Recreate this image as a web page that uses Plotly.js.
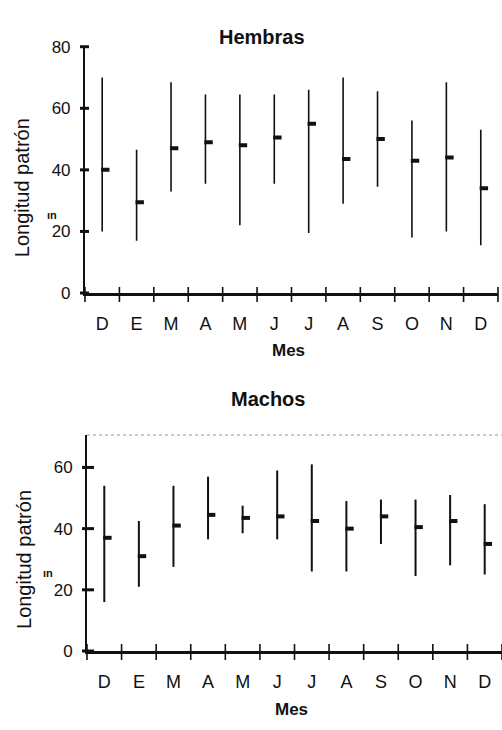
<!DOCTYPE html>
<html><head><meta charset="utf-8">
<script src="https://cdn.plot.ly/plotly-3.0.1.min.js"></script>
<style>html,body{margin:0;padding:0;background:#fff}#c{width:502px;height:730px}</style>
</head><body><div id="c"></div>
<script>
const months = ['D','E','M','A','M','J','J','A','S','O','N','D'];
const hembrasMin  = [20, 17, 33, 35.5, 22, 35.5, 19.5, 29, 34.5, 18, 20, 15.5];
const hembrasMax  = [70, 46.5, 68.5, 64.5, 64.5, 64.5, 66, 70, 65.5, 56, 68.5, 53];
const hembrasMean = [40, 29.5, 47, 49, 48, 50.5, 55, 43.5, 50, 43, 44, 34];
const machosMin   = [16, 21, 27.5, 36.5, 38.5, 36.5, 26, 26, 35, 24.5, 28, 25];
const machosMax   = [54, 42.5, 54, 57, 47.5, 59, 61, 49, 49.5, 49.5, 51, 48];
const machosMean  = [37, 31, 41, 44.5, 43.5, 44, 42.5, 40, 44, 40.5, 42.5, 35];
const yTicksTop = [0, 20, 40, 60, 80];
const yTicksBottom = [0, 20, 40, 60];

const pos = months.map((m, i) => i + 1);
const edges = [0].concat(pos).map(v => v + 0.5);
const xRange = [0.5, 12.5];
const yRangeTop = [0, 80], yRangeBot = [0, 70.6];

function rangeTrace(mins, maxs, xa, ya, w) {
  const xs = [], ys = [];
  pos.forEach((p, i) => { xs.push(p, p, null); ys.push(mins[i], maxs[i], null); });
  return {type:'scatter', mode:'lines', x:xs, y:ys, xaxis:xa, yaxis:ya,
          line:{color:'#111', width:w}, hoverinfo:'skip', showlegend:false};
}
function meanTrace(means, xa, ya) {
  return {type:'scatter', mode:'markers', x:pos.map(p => p + 0.09), y:means, xaxis:xa, yaxis:ya,
          marker:{symbol:'line-ew', size:6, line:{color:'#111', width:4}}, showlegend:false};
}

const F = 'Liberation Sans, Arial, sans-serif';

const data = [
  rangeTrace(hembrasMin, hembrasMax, 'x', 'y', 1.6),
  meanTrace(hembrasMean, 'x', 'y'),
  rangeTrace(machosMin, machosMax, 'x2', 'y2', 2),
  meanTrace(machosMean, 'x2', 'y2')
];

function mainX(domain, anchor) {
  return {domain:domain, anchor:anchor, range:xRange, tickmode:'array', tickvals:pos, ticktext:months,
          ticks:'', showline:true, linecolor:'#111', linewidth:3, showgrid:false, zeroline:false,
          ticklabelstandoff:12, tickfont:{family:F, size:18, color:'#111'}};
}
function mainY(domain, anchor, range, tv) {
  return {domain:domain, anchor:anchor, range:range, tickmode:'array', tickvals:tv,
          ticks:'', showline:true, linecolor:'#111',
          linewidth:2, showgrid:false, zeroline:false, ticklabelstandoff:9,
          tickfont:{family:F, size:17, color:'#111'}};
}

// axis tick marks crossing the axis lines (paper coordinates, no clipping)
function lin(v, r, d) { return d[0] + (v - r[0]) / (r[1] - r[0]) * (d[1] - d[0]); }
function xTickShapes(xd, yd, dn, up) {
  return edges.map(e => {
    const xp = lin(e, xRange, xd);
    return {type:'line', xref:'paper', yref:'paper', ysizemode:'pixel', yanchor:yd[0],
      x0:xp, x1:xp, y0:-dn, y1:up, line:{color:'#111', width:1.6}};
  });
}
function yTickShapes(xd, yd, yr, tv, l, r) {
  return tv.map(v => {
    const yp = lin(v, yr, yd);
    return {type:'line', xref:'paper', yref:'paper', xsizemode:'pixel', xanchor:xd[0],
      x0:-l, x1:r, y0:yp, y1:yp, line:{color:'#111', width:3}};
  });
}

const topDomX = [0.1693, 0.992], botDomX = [0.1733, 1.0];
const topDomY = [0.5986, 0.936], botDomY = [0.1082, 0.4041];
const layout = {
  width:502, height:730, margin:{l:0, r:0, t:0, b:0},
  paper_bgcolor:'#fff', plot_bgcolor:'rgba(0,0,0,0)', showlegend:false,
  xaxis: mainX(topDomX, 'y'),
  yaxis: mainY(topDomY, 'x', yRangeTop, yTicksTop),
  xaxis2: mainX(botDomX, 'y2'),
  yaxis2: mainY(botDomY, 'x2', yRangeBot, yTicksBottom),
  shapes: [
    {type:'line', xref:'x2 domain', yref:'y2 domain', x0:0, x1:1, y0:1, y1:1,
     line:{color:'#999', width:1, dash:'dot'}}
  ].concat(xTickShapes(topDomX, topDomY, 9, 6), xTickShapes(botDomX, botDomY, 9, 7),
           yTickShapes(topDomX, topDomY, yRangeTop, yTicksTop, 5, 4),
           yTickShapes(botDomX, botDomY, yRangeBot, yTicksBottom, 5, 7)),
  annotations: [
    {text:'<b>Hembras</b>', xref:'paper', yref:'paper', x:0.522, y:0.967, xanchor:'center', showarrow:false,
     font:{family:F, size:20, color:'#111'}},
    {text:'<b>Machos</b>', xref:'paper', yref:'paper', x:0.534, y:0.4534, xanchor:'center', showarrow:false,
     font:{family:F, size:20, color:'#111'}},
    {text:'<b>Mes</b>', xref:'paper', yref:'paper', x:0.574, y:0.5205, xanchor:'center', showarrow:false,
     font:{family:F, size:17, color:'#111'}},
    {text:'<b>Mes</b>', xref:'paper', yref:'paper', x:0.58, y:0.0123, xanchor:'center', showarrow:false,
     font:{family:F, size:17, color:'#111'}},
    {text:'Longitud patrón', xref:'paper', yref:'paper', x:0.0432, y:1 - 187.5/730, textangle:-90,
     xanchor:'center', yanchor:'middle', showarrow:false, font:{family:F, size:20, color:'#111'}},
    {text:'Longitud patrón', xref:'paper', yref:'paper', x:0.0478, y:1 - 559/730, textangle:-90,
     xanchor:'center', yanchor:'middle', showarrow:false, font:{family:F, size:20, color:'#111'}},
    {text:'<b>ın</b>', xref:'paper', yref:'paper', x:0.1036, y:1 - 207/730, xanchor:'center', showarrow:false,
     font:{family:F, size:11, color:'#111'}},
    {text:'<b>ın</b>', xref:'paper', yref:'paper', x:0.096, y:1 - 581/730, xanchor:'center', showarrow:false,
     font:{family:F, size:11, color:'#111'}}
  ]
};

Plotly.newPlot('c', data, layout, {staticPlot:true, displayModeBar:false});
</script></body></html>
